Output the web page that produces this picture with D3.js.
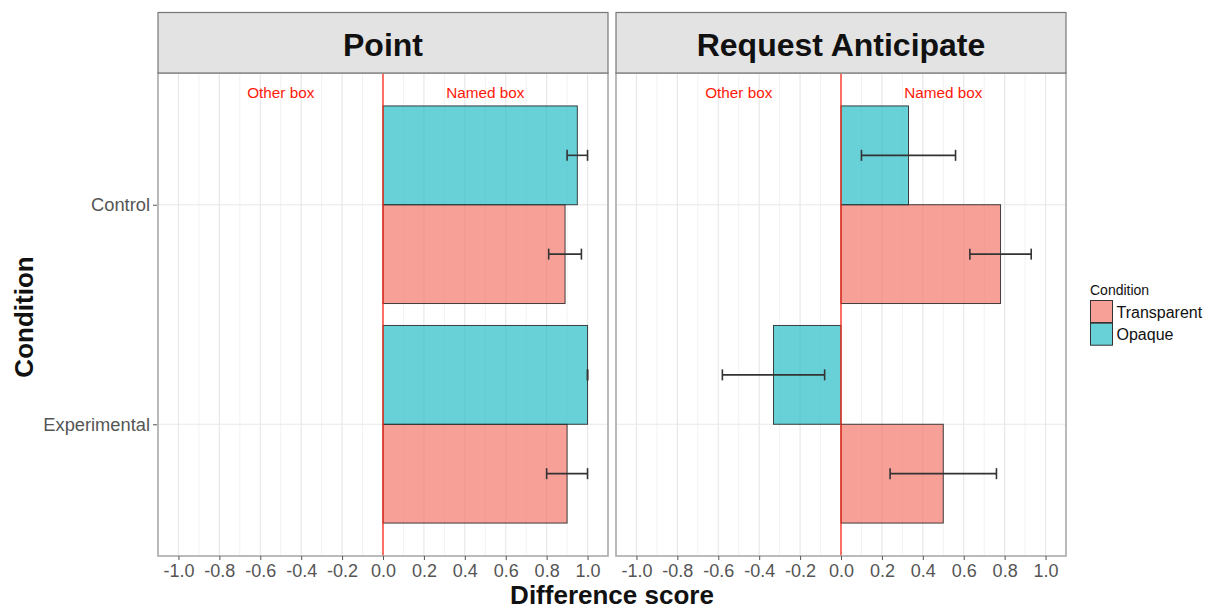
<!DOCTYPE html>
<html>
<head>
<meta charset="utf-8">
<script src="https://cdn.jsdelivr.net/npm/d3@7"></script>
<style>
  html, body { margin: 0; padding: 0; background: #fff; }
  svg { display: block; font-family: "Liberation Sans", Arial, Helvetica, sans-serif; }
</style>
</head>
<body>
<svg id="chart" width="1214" height="610"></svg>
<script>
// ---- data ----
const panels = ["Point", "Request Anticipate"];
const categories = ["Control", "Experimental"];
const groups = ["Transparent", "Opaque"];
// values per panel, indexed [category][group]
const pointValues = [[0.89, 0.95], [0.90, 1.00]];
const pointLower  = [[0.81, 0.90], [0.80, 1.00]];
const pointUpper  = [[0.97, 1.00], [1.00, 1.00]];
const raValues = [[0.78, 0.33], [0.50, -0.33]];
const raLower  = [[0.63, 0.10], [0.24, -0.58]];
const raUpper  = [[0.93, 0.56], [0.76, -0.08]];
const xTicks = [-1.0, -0.8, -0.6, -0.4, -0.2, 0.0, 0.2, 0.4, 0.6, 0.8, 1.0];
const xMinor = [-1.1, -0.9, -0.7, -0.5, -0.3, -0.1, 0.1, 0.3, 0.5, 0.7, 0.9, 1.1];
const annotations = [{label: "Other box", x: -0.5}, {label: "Named box", x: 0.5}];

const panelData = [
  {name: panels[0], values: pointValues, lower: pointLower, upper: pointUpper},
  {name: panels[1], values: raValues, lower: raLower, upper: raUpper}
];

const fills = {Transparent: "#F37367", Opaque: "#21BBC6"};

const svg = d3.select("#chart");
const panelX = [158, 616];
const panelW = 450;
const stripTop = 12.5, stripBottom = 73, plotBottom = 556;

const y = d3.scaleLinear().domain([0.4, 2.6]).range([stripBottom, plotBottom]);
const catPos = d3.scaleOrdinal().domain(categories).range([1, 2]);
const barH = 0.45;

panelData.forEach((p, pi) => {
  const x0 = panelX[pi];
  const x = d3.scaleLinear().domain([-1.1, 1.1]).range([x0, x0 + panelW]);
  const g = svg.append("g");

  // grid minor
  g.selectAll(".minor").data(xMinor).join("line")
    .attr("x1", d => x(d)).attr("x2", d => x(d))
    .attr("y1", stripBottom).attr("y2", plotBottom)
    .attr("stroke", "#f2f2f2").attr("stroke-width", 1);
  // grid major
  g.selectAll(".major").data(xTicks).join("line")
    .attr("x1", d => x(d)).attr("x2", d => x(d))
    .attr("y1", stripBottom).attr("y2", plotBottom)
    .attr("stroke", "#e8e8e8").attr("stroke-width", 1.2);
  g.selectAll(".hmajor").data(categories).join("line")
    .attr("x1", x0).attr("x2", x0 + panelW)
    .attr("y1", d => y(catPos(d))).attr("y2", d => y(catPos(d)))
    .attr("stroke", "#e8e8e8").attr("stroke-width", 1.2);

  // bars
  const rows = [];
  categories.forEach((c, ci) => groups.forEach((gr, gi) => {
    rows.push({cat: c, group: gr, v: p.values[ci][gi], lo: p.lower[ci][gi], hi: p.upper[ci][gi]});
  }));
  const yStart = d => d.group === "Opaque" ? catPos(d.cat) - barH : catPos(d.cat);
  g.selectAll(".bar").data(rows).join("rect")
    .attr("x", d => Math.min(x(0), x(d.v)))
    .attr("width", d => Math.abs(x(d.v) - x(0)))
    .attr("y", d => y(yStart(d)))
    .attr("height", d => y(yStart(d) + barH) - y(yStart(d)))
    .attr("fill", d => fills[d.group]).attr("fill-opacity", 0.68)
    .attr("stroke", "#222").attr("stroke-opacity", 0.85).attr("stroke-width", 1);

  // error bars
  const mid = d => y(yStart(d) + barH / 2);
  const eb = g.selectAll(".eb").data(rows).join("g").attr("stroke", "#333").attr("stroke-width", 1.6);
  eb.append("line").attr("x1", d => x(d.lo)).attr("x2", d => x(d.hi)).attr("y1", mid).attr("y2", mid);
  eb.append("line").attr("x1", d => x(d.lo)).attr("x2", d => x(d.lo)).attr("y1", d => mid(d) - 5.5).attr("y2", d => mid(d) + 5.5);
  eb.append("line").attr("x1", d => x(d.hi)).attr("x2", d => x(d.hi)).attr("y1", d => mid(d) - 5.5).attr("y2", d => mid(d) + 5.5);

  // red zero line
  g.append("line").attr("x1", x(0)).attr("x2", x(0)).attr("y1", stripBottom).attr("y2", plotBottom)
    .attr("stroke", "#ff2a1a").attr("stroke-width", 1.3);

  // annotations
  g.selectAll(".ann").data(annotations).join("text")
    .attr("x", d => x(d.x)).attr("y", 97.5)
    .attr("text-anchor", "middle").attr("font-size", 15.3).attr("fill", "#ff1a0a")
    .text(d => d.label);

  // panel border
  g.append("rect").attr("x", x0).attr("y", stripBottom).attr("width", panelW).attr("height", plotBottom - stripBottom)
    .attr("fill", "none").attr("stroke", "#aaa").attr("stroke-width", 1.6);

  // strip
  g.append("rect").attr("x", x0).attr("y", stripTop).attr("width", panelW).attr("height", stripBottom - stripTop)
    .attr("fill", "#e3e3e3").attr("stroke", "#777").attr("stroke-width", 1.2);
  g.append("text").attr("x", x0 + panelW / 2).attr("y", 56)
    .attr("text-anchor", "middle").attr("font-size", 32).attr("font-weight", "bold").attr("fill", "#111")
    .text(p.name);

  // x axis
  const ax = d3.axisBottom(x).tickValues(xTicks).tickFormat(d3.format(".1f")).tickSize(4).tickPadding(4);
  const axg = g.append("g").attr("transform", `translate(0,${plotBottom})`).call(ax);
  axg.select(".domain").remove();
  axg.selectAll(".tick line").attr("stroke", "#555");
  axg.selectAll(".tick text").attr("font-size", 18).attr("fill", "#555")
    .attr("font-family", "'Liberation Sans', Arial, sans-serif")
    .text(d => d3.format(".1f")(d).replace("−", "-"));

  if (pi === 0) {
    const ay = d3.axisLeft(d3.scalePoint().domain(categories).range([y(1), y(2)])).tickSize(4).tickPadding(3);
    const ayg = g.append("g").attr("transform", `translate(${x0 - 1},0)`).call(ay);
    ayg.select(".domain").remove();
    ayg.selectAll(".tick line").attr("stroke", "#555");
    ayg.selectAll(".tick text").attr("font-size", 18.3).attr("fill", "#555")
      .attr("font-family", "'Liberation Sans', Arial, sans-serif");
  }
});

// axis titles
svg.append("text").attr("x", 612).attr("y", 604).attr("text-anchor", "middle")
  .attr("font-size", 26).attr("font-weight", "bold").attr("fill", "#111").text("Difference score");
svg.append("text").attr("transform", "translate(33,317) rotate(-90)").attr("text-anchor", "middle")
  .attr("font-size", 26).attr("font-weight", "bold").attr("fill", "#111").text("Condition");

// legend
const lg = svg.append("g");
lg.append("text").attr("x", 1090).attr("y", 295).attr("font-size", 14).attr("fill", "#111").text("Condition");
groups.forEach((gr, i) => {
  const top = 300.5 + i * 22.7;
  lg.append("rect").attr("x", 1090.5).attr("y", top).attr("width", 22).attr("height", 22)
    .attr("fill", fills[gr]).attr("fill-opacity", 0.68).attr("stroke", "#333").attr("stroke-width", 1);
  lg.append("text").attr("x", 1116.5).attr("y", top + 17).attr("font-size", 16).attr("fill", "#111").text(gr);
});
</script>
</body>
</html>
